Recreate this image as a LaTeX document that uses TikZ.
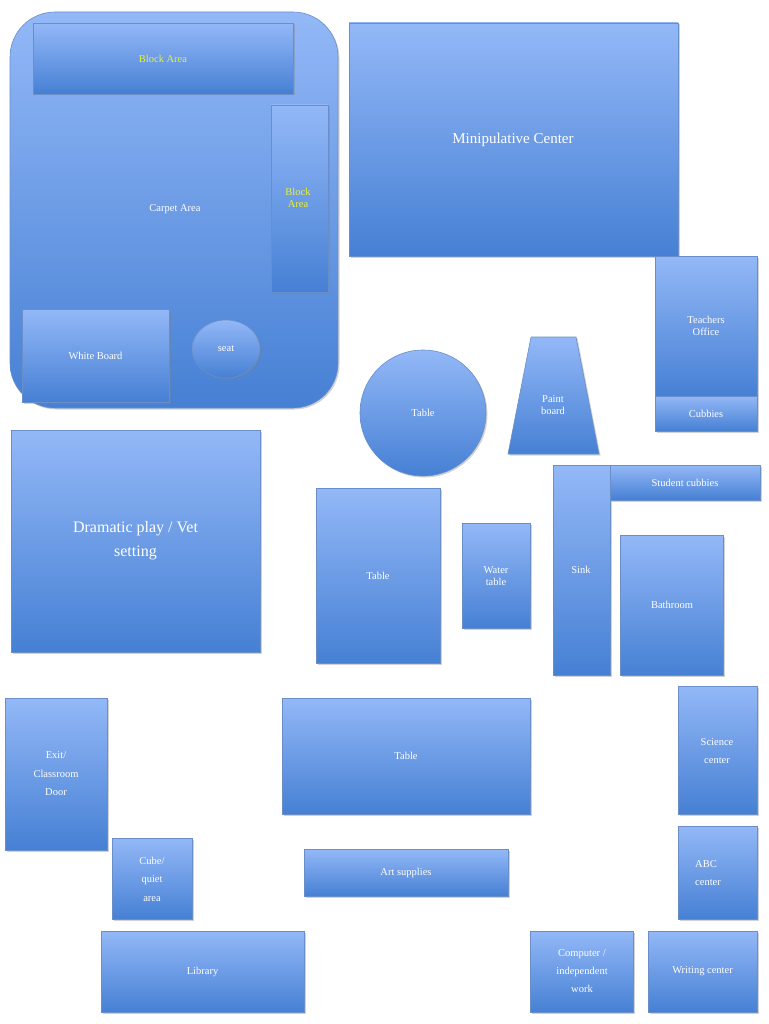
\documentclass[tikz,border=0pt]{standalone}
\usepackage{fontspec}
\setmainfont{Liberation Serif}
\usetikzlibrary{shadows,shapes.geometric}
\definecolor{topc}{HTML}{93B8F7}
\definecolor{botc}{HTML}{4680D4}
\definecolor{edge}{HTML}{6A8FC8}
\definecolor{ylw}{HTML}{E8F03A}
\tikzset{
  room/.style={draw=edge, line width=0.6pt, top color=topc, bottom color=botc,
    text=white, font=\fontsize{10.5}{12.5}\selectfont, align=center, inner sep=0pt,
    drop shadow={shadow xshift=1.5pt, shadow yshift=-1.5pt, opacity=.35}},
  bigtext/.style={font=\fontsize{15}{18}\selectfont},
  yel/.style={text=ylw}
}
\newcommand\roombox[6][]{%
  \pgfmathsetmacro\cx{(#3+#5)/2}\pgfmathsetmacro\cy{(#4+#6)/2}%
  \pgfmathsetmacro\ww{#5-#3}\pgfmathsetmacro\hh{#6-#4}%
  \node[room,minimum width=\ww pt,minimum height=\hh pt,#1] (#2) at (\cx,\cy) {};}
\begin{document}
\begin{tikzpicture}[x=1pt,y=-1pt]
\useasboundingbox[fill=white] (0,0) rectangle (768,1024);
\roombox[rounded corners=45pt]{carpet}{10}{12}{338}{408}
\node[text=white,font=\fontsize{10.5}{12.5}\selectfont] (carpetlbl) at (175,209) {Carpet Area};
\roombox{blockA}{33}{23}{293}{94}
\node[yel,font=\fontsize{10.5}{12.5}\selectfont] at (blockA) {Block Area};
\roombox{blockB}{271}{105}{328}{292}
\node[yel,align=center,font=\fontsize{10.5}{12.5}\selectfont] at (298,198) {Block\\Area};
\roombox{white}{22}{309}{169}{402}
\node[text=white,font=\fontsize{10.5}{12.5}\selectfont] at (white) {White Board};
\node[room,ellipse,minimum width=68pt,minimum height=58pt] (seat) at (226,349) {seat};
\roombox{mini}{349}{23}{678}{256}
\node[text=white,bigtext] at (513,140) {Minipulative Center};
\roombox{teach}{655}{256}{757}{396}
\node[text=white,align=center,font=\fontsize{10.5}{12.5}\selectfont] at (706,326) {Teachers\\Office};
\roombox{cubbies}{655}{396}{757}{431}
\node[text=white,font=\fontsize{10.5}{12.5}\selectfont] at (cubbies) {Cubbies};
\node[room,circle,minimum size=126pt] (tablec) at (423,413) {Table};
\shade[top color=topc,bottom color=botc,draw=edge,line width=0.6pt,
  drop shadow={shadow xshift=1.5pt, shadow yshift=-1.5pt, opacity=.35}]
  (531,337) -- (576,337) -- (599,454) -- (508,454) -- cycle;
\node[text=white,align=center,font=\fontsize{10.5}{12.5}\selectfont] (paint) at (553,405) {Paint\\board};
\roombox{drama}{11}{430}{260}{652}
\node[text=white,align=center,bigtext,font=\fontsize{16}{24}\selectfont] at (drama) {Dramatic play / Vet\\setting};
\roombox{table2}{316}{488}{440}{663}
\node[text=white,font=\fontsize{10.5}{12.5}\selectfont] at (table2) {Table};
\roombox{water}{462}{523}{530}{628}
\node[text=white,align=center,font=\fontsize{10.5}{12.5}\selectfont] at (496,576) {Water\\table};
\roombox{sink}{553}{465}{610}{675}
\node[text=white,font=\fontsize{10.5}{12.5}\selectfont] at (581,570) {Sink};
\roombox{stud}{610}{465}{760}{500}
\node[text=white,font=\fontsize{10.5}{12.5}\selectfont] at (stud) {Student cubbies};
\roombox{bath}{620}{535}{723}{675}
\node[text=white,font=\fontsize{10.5}{12.5}\selectfont] at (672,605) {Bathroom};
\roombox{exit}{5}{698}{107}{850}
\node[text=white,align=center,font=\fontsize{10.5}{18.5}\selectfont] at (56,774) {Exit/\\Classroom\\Door};
\roombox{table3}{282}{698}{530}{814}
\node[text=white,font=\fontsize{10.5}{12.5}\selectfont] at (406,756) {Table};
\roombox{sci}{678}{686}{757}{814}
\node[text=white,align=center,font=\fontsize{10.5}{18}\selectfont] at (717,751) {Science\\center};
\roombox{cube}{112}{838}{192}{919}
\node[text=white,align=center,font=\fontsize{10.5}{18.5}\selectfont] at (152,879) {Cube/\\quiet\\area};
\roombox{art}{304}{849}{508}{896}
\node[text=white,font=\fontsize{10.5}{12.5}\selectfont] at (art) {Art supplies};
\roombox{abc}{678}{826}{757}{919}
\node[text=white,align=left,font=\fontsize{10.5}{18}\selectfont] at (708,873) {ABC\\center};
\roombox{lib}{101}{931}{304}{1012}
\node[text=white,font=\fontsize{10.5}{12.5}\selectfont] at (lib) {Library};
\roombox{comp}{530}{931}{633}{1012}
\node[text=white,align=center,font=\fontsize{10.5}{18}\selectfont] at (582,971) {Computer /\\independent\\work};
\roombox{write}{648}{931}{757}{1012}
\node[text=white,font=\fontsize{10.5}{12.5}\selectfont] at (write) {Writing center};
\end{tikzpicture}
\end{document}
